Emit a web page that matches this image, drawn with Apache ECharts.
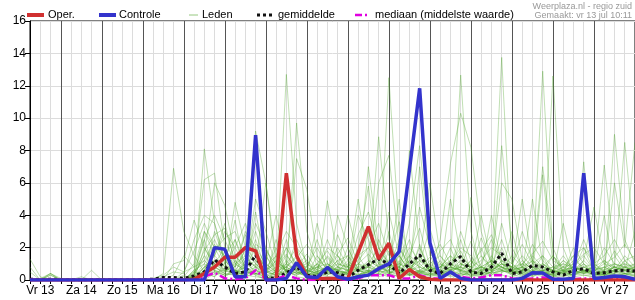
<!DOCTYPE html>
<html><head><meta charset="utf-8">
<script src="https://cdn.jsdelivr.net/npm/echarts@6/dist/echarts.min.js"></script>
<style>html,body{margin:0;padding:0;background:#fff}#c{width:635px;height:300px}</style>
</head><body><div id="c"></div>
<script>
// time axis: 6-hourly steps starting Vr 13 06:00
const dayNames = ['Vr 13','Za 14','Zo 15','Ma 16','Di 17','Wo 18','Do 19','Vr 20','Za 21','Zo 22','Ma 23','Di 24','Wo 25','Do 26','Vr 27','Za 28'];
const startHour = 6, stepHours = 6, pointCount = 60;
const yTicks = [0,2,4,6,8,10,12,14,16];

const oper = [0,0,0, 0,0,0,0, 0,0,0,0, 0,0,0,0,
  0,0.05,0.4,0.8, 1.4,1.4,2.0,1.8, 0,0,6.6,1.5, 0.2,0.1,0.1,0.1, 0.1,1.7,3.3,1.3, 2.27,0.1,0.65,0.2,
  0.05,0,0,0, 0,0,0,0, 0,0,0,0, 0,0,0,0, 0,0,0,0, 0];
const controle = [0,0,0, 0,0,0,0, 0,0,0,0, 0,0,0,0,
  0,0,0,2.0, 1.9,0.2,0.2,8.95, 0,0,0.1,1.07, 0.2,0.15,0.78,0.2, 0.05,0.2,0.3,0.7, 1.0,1.75,6.8,11.84,
  2.3,0.1,0.5,0.1, 0,0,0,0, 0,0.1,0.45,0.43, 0.05,0.05,0.1,6.6, 0.1,0.15,0.25,0.2, 0.05];
const gemiddelde = [0.05,0.02,0.05, 0.02,0.01,0.01,0.02, 0.01,0.01,0.01,0.01, 0.02,0.05,0.15,0.15,
  0.1,0.25,0.5,1.24, 0.8,0.4,0.5,1.55, 0.15,0.1,0.45,0.8, 0.3,0.2,0.5,0.45, 0.15,0.6,0.95,1.3,
  1.0,0.4,1.0,1.55, 0.6,0.4,1.0,1.45, 0.5,0.4,0.8,1.65, 0.4,0.5,0.9,0.8, 0.5,0.3,0.6,0.7, 0.4,0.45,0.57,0.6, 0.55];
const mediaan = [0,0,0, 0,0,0,0, 0,0,0,0, 0,0,0,0,
  0,0,0.2,0.45, 0.1,0.05,0.1,0.6, 0.05,0.05,0.3,0.1, 0,0,0.1,0.05, 0,0.1,0.3,0.3, 0.3,0.1,0.1,0.3,
  0.1,0.1,0.5,0.2, 0.1,0.15,0.3,0.3, 0.1,0.05,0.1,0.15, 0.1,0.05,0.05,0.1, 0.05,0.05,0.1,0.1, 0.05];

const leden01 = [0,0,0,0,0,0,0,0,0,0,0,0,0,0.4,6.9, 3.0,1.5,0.5,0.2, 0.8,0.3,1.2,0.4, 0,0.5,2.0,0.8, 0.3,1.5,0.6,0.2, 0.5,1.8,3.0,1.2, 0.4,0.2,1.5,3.2, 0.8,0.2,0,0.5, 1.2,0.3,0.8,2.5, 0.6,0.2,0.5,1.5, 0.3,0,0.4,1.0, 0.2,0.6,1.8,0.9, 0.4];
const leden02 = [1.3,0.2,0,0,0,0,0,0,0,0,0,0,0,0,0, 0,0.4,8.1,3.5, 1.2,0.6,0.2,0.8, 0.2,0,1.0,0.5, 0.2,0.8,1.4,0.6, 0.3,0.7,0.2,0.4, 1.8,0.6,0.3,2.2, 0.5,1.2,0.4,0.2, 0.6,1.5,0.8,13.75, 1.0,0.5,0.3,0.6, 0.2,0.5,1.0,0.4, 0.3,0.8,0.5,1.2, 0.6];
const leden03 = [0,0,0,0,0,0,0,0,0,0,0,0,0,0,0, 0.2,1.0,6.2,6.6, 2.0,0.5,0.8,0.3, 0,0.6,0.3,1.2, 0.5,0.2,4.9,1.5, 0.6,0.2,1.0,8.85, 2.5,0.8,0.4,0.6, 0.3,0.2,0.8,1.8, 0.6,0.3,0.5,1.2, 0.4,0.8,0.2,0.5, 1.5,0.6,0.2,0.8, 0.4,0.2,9.0,2.5, 1.0];
const leden04 = [0,0,0,0,0,0,0,0,0,0,0,0,0,0,0, 0,0.3,1.5,6.0, 4.6,1.5,0.8,0.4, 0.2,0.5,12.7,3.5, 0.8,0.3,0.6,1.2, 0.4,1.0,0.5,0.3, 0.8,1.5,0.6,0.4, 1.2,0.3,0.5,0.8, 0.2,0.4,1.5,0.6, 0.3,1.0,0.5,12.9, 1.5,0.5,0.3,0.8, 0.5,0.3,0.6,1.5, 0.8];
const leden05 = [0.8,0,0.4,0.1,0,0,0,0,0,0,0,0,0,0,0, 0,0,0.8,1.2, 0.6,4.8,2.0,9.2, 6.0,1.5,0.5,0.3, 0.6,0.4,0.3,0.8, 1.5,0.5,0.8,0.6, 12.5,3.0,0.8,0.5, 0.3,0.8,1.5,0.4, 0.6,0.2,0.5,0.8, 0.4,0.6,0.3,0.5, 12.6,2.0,0.4,0.6, 0.3,0.5,0.8,0.4, 0.3];
const leden06 = [0.5,0,0.3,0,0,0,0.6,0,0,0,0,0,0,0.2,0.5, 0.4,2.5,4.0,3.5, 1.0,3.7,0.5,1.0, 0.5,2.0,0.4,0.8, 1.0,0.6,2.0,1.5, 0.8,5.0,1.2,0.8, 0.5,0.6,3.5,8.3, 2.0,0.5,1.2,12.66, 3.0,0.5,1.0,0.6, 0.5,1.2,0.6,0.5, 0.3,0.6,0.5,7.3, 1.0,0.5,0.4,0.8, 0.5];
const leden07 = [0,0,0,0,0,0,0,0,0,0,0,0,0,0,0, 0,0.2,0.5,1.0, 2.0,0.8,3.0,2.0, 1.0,4.0,1.0,7.5, 5.6,1.5,0.6,0.4, 0.3,0.6,7.0,2.0, 1.0,5.0,0.6,1.5, 0.5,2.5,7.2,10.3, 8.2,3.0,1.0,0.8, 0.5,0.6,1.2,0.4, 0.6,1.5,0.6,0.4, 0.8,7.1,1.5,0.6, 1.0];
const leden08 = [0,0.1,0.4,0,0,0.2,0,0,0,0,0,0,0,0,1.0, 1.2,3.7,2.0,0.8, 0.5,1.0,0.6,5.0, 3.0,0.8,2.0,1.0, 0.5,3.5,1.0,0.6, 4.0,1.5,0.5,6.0, 7.7,2.0,0.8,0.5, 0.6,0.4,1.0,0.6, 5.1,1.5,0.6,8.3, 2.0,0.8,0.5,1.0, 0.6,0.4,2.0,1.0, 0.4,0.6,6.0,2.0, 8.5];
const leden09 = [0,0,0,0,0,0,0,0,0,0,0,0,0.1,0.3,0.8, 0.5,0.8,3.0,1.5, 3.5,1.0,0.5,0.8, 6.0,1.0,0.6,2.5, 1.0,0.5,0.8,0.6, 0.4,2.0,5.8,1.0, 0.8,0.4,0.6,1.2, 6.0,1.5,0.6,1.0, 0.8,4.0,1.0,6.0, 5.0,1.2,0.6,0.8, 1.5,0.8,0.4,1.2, 4.5,1.0,0.8,8.5, 2.0];
const leden10 = [0,0,0,0,0,0,0,0,0,0,0,0,0,0,0, 0,0,0.4,0.8, 0.4,0.3,1.0,0.6, 0.3,0.2,0.5,9.7, 3.0,0.8,0.4,0.3, 0.6,0.3,0.5,1.0, 0.4,0.8,0.3,0.6, 1.0,0.5,0.3,0.4, 0.2,0.6,0.8,0.5, 0.6,5.0,1.0,7.0, 2.0,0.5,0.3,0.6, 0.8,0.3,0.5,0.4, 0.6];
const leden11 = [0,0,0,0,0,0,0,0,0,0,0,0,0,0,0, 0,0.1,0.6,1.5, 0.8,0.4,2.0,1.2, 0.5,0.3,1.2,0.5, 0.3,1.0,0.4,4.0, 2.0,0.6,1.0,0.5, 1.0,0.4,8.0,2.0, 0.5,1.0,0.6,0.3, 0.5,0.8,0.4,1.2, 0.8,0.4,5.0,1.0, 0.5,1.2,0.6,0.4, 0.6,0.3,0.4,1.2, 0.6];
const leden12 = [0,0,0.4,0,0,0,0,0,0,0,0,0,0,0,0, 0,0,2.0,1.0, 0.5,2.5,0.6,0.3, 1.5,0.4,0.2,0.8, 1.2,0.4,0.6,1.5, 0.5,4.0,2.5,0.6, 0.3,1.5,0.5,2.0, 0.6,0.3,5.0,1.5, 0.4,1.0,2.5,1.0, 0.5,0.3,0.6,0.5, 0.4,0.8,1.5,0.6, 0.3,0.4,0.8,0.6, 0.4];
const leden13 = [0,0,0,0,0,0,0,0,0,0,0,0,0,0,0, 0,0.5,1.2,0.6, 0.3,0.6,0.4,4.2, 1.0,0.5,2.5,0.6, 0.4,0.3,0.8,0.5, 1.2,0.6,0.4,2.5, 1.0,0.6,0.4,7.0, 1.5,0.4,0.8,0.5, 0.3,0.6,4.0,1.0, 0.6,0.4,0.3,6.5, 1.0,0.6,0.5,0.4, 0.6,0.8,0.5,0.3, 0.5];
const leden14 = [0,0,0,0,0,0,0,0,0,0,0,0,0,0,0, 0,0.2,0.4,3.0, 1.2,0.5,0.3,0.6, 0.4,1.5,0.5,0.3, 0.6,2.5,0.6,0.4, 0.3,0.8,3.0,1.5, 0.6,2.5,0.4,0.3, 0.8,0.6,2.0,0.5, 0.6,0.3,0.5,3.5, 1.0,0.5,0.8,0.4, 0.3,3.5,0.8,0.5, 0.6,4.0,0.5,0.6, 3.0];
const leden15 = [0,0,0.3,0,0,0,0,0,0,0,0,0,0,0,0, 0.3,0,0.2,0.5, 0.3,0.4,0.6,2.0, 0.5,0.3,0.6,0.4, 0.3,0.5,0.3,0.6, 0.4,0.3,0.6,0.5, 3.0,0.5,0.3,0.6, 0.4,0.3,0.5,2.5, 0.5,0.6,0.4,2.0, 0.5,0.3,0.4,0.6, 0.5,0.3,0.4,0.5, 0.3,0.5,0.4,0.3, 0.5];
const leden16 = [0,0,0,0,0,0,0,0,0,0,0,0,0,0,0, 0,0.3,2.5,0.5, 0.3,0.6,0.4,0.6, 2.0,0.4,0.3,0.5, 0.4,0.3,1.0,0.5, 2.0,0.6,0.4,0.3, 0.5,0.4,0.6,0.4, 0.3,0.6,0.4,1.0, 0.6,2.0,0.5,0.4, 3.0,0.6,0.4,0.3, 0.4,0.5,0.6,2.0, 0.5,0.3,0.6,0.4, 0.6];
const leden17 = [0,0,0,0,0,0,0,0,0,0,0,0,0,0,0, 0,0,0.3,0.5, 0.6,0.3,0.5,0.4, 0.3,0.5,0.8,0.4, 0.6,0.4,0.5,0.3, 0.5,0.4,0.3,0.6, 0.4,0.6,0.3,0.5, 0.4,0.3,0.6,0.4, 0.3,0.5,0.4,0.6, 0.4,0.5,0.3,0.4, 0.3,0.4,0.5,0.6, 0.4,0.5,0.3,0.4, 0.3];
const leden18 = [0,0,0,0,0,0,0,0,0,0,0,0,0,0,0, 0,0.5,0.4,0.2, 1.0,0.4,0.3,0.2, 0.1,0.3,0.6,0.2, 0.1,0.2,0.4,0.8, 0.3,0.2,0.5,0.4, 0.2,1.2,0.3,0.2, 0.4,0.2,0.3,0.6, 0.3,0.2,0.5,0.3, 0.2,0.4,0.2,0.5, 0.3,0.2,0.4,0.3, 0.2,0.3,0.2,0.4, 0.2];
const leden19 = [0,0,0,0,0,0,0,0,0,0,0,0,0,0,0, 0,0,0,0.4, 0.2,0.6,0.2,0.4, 0.2,0.1,0.3,0.5, 0.2,0.4,0.2,0.3, 0.1,0.3,0.6,0.2, 0.4,0.2,0.3,0.5, 0.2,0.4,0.2,0.3, 0.4,0.2,0.3,0.8, 0.3,0.2,0.4,0.2, 0.2,0.3,0.2,0.3, 0.2,0.4,0.3,0.2, 0.3];
const leden20 = [0,0,0,0,0,0,0,0,0,0,0,0,0,0,0, 0,0.2,1.0,2.2, 1.5,0.8,1.8,1.0, 0.4,1.2,0.6,1.0, 0.8,0.5,1.5,0.8, 0.6,1.0,0.8,1.5, 1.0,0.8,1.5,1.0, 0.4,0.8,1.2,1.5, 0.8,0.6,1.0,1.5, 0.6,0.8,1.2,0.8, 0.5,0.8,0.6,1.2, 0.6,0.8,1.0,0.6, 0.8];
const leden21 = [0,0,0,0,0,0,0,0,0,0,0,0,0,0,0, 0.5,1.8,3.5,2.0, 1.5,2.5,1.0,3.0, 1.0,0.5,1.5,0.8, 0.6,1.0,0.5,1.2, 1.5,0.8,1.0,2.0, 0.8,1.0,2.5,0.6, 1.0,1.5,0.8,0.6, 1.2,0.8,0.6,1.0, 0.8,0.6,1.5,0.8, 0.6,1.0,0.8,0.5, 0.8,1.2,0.6,0.8, 1.0];
const leden22 = [0,0,0,0,0,0,0,0,0,0,0,0,0,0,0, 0,0.6,2.5,4.0, 2.5,1.0,1.5,0.8, 1.5,0.6,1.0,2.0, 0.5,0.8,1.0,0.6, 0.8,1.5,2.0,1.0, 2.0,1.0,0.6,1.5, 0.6,0.8,1.0,2.0, 1.5,0.6,1.2,0.8, 0.6,1.5,0.8,1.0, 0.5,0.6,1.2,0.8, 0.6,1.0,0.5,1.0, 0.6];
const leden23 = [0,0,0,0,0,0,0,0,0,0,0,0,0,0,0, 0,0.2,0.8,1.5, 3.0,2.0,0.8,2.5, 0.6,0.3,0.8,1.5, 0.6,0.4,0.6,2.0, 0.8,0.5,0.6,0.4, 0.6,2.0,1.0,0.5, 0.8,0.4,0.6,0.8, 0.5,0.4,0.6,1.0, 0.6,0.4,0.8,0.5, 0.3,0.5,0.8,1.5, 0.6,0.4,0.8,0.5, 0.8];
const leden24 = [0,0,0,0,0,0,0,0,0,0,0,0,0,0,0, 0,0,0.3,0.6, 0.4,1.2,0.4,0.6, 0.3,2.5,0.4,0.6, 0.3,0.5,0.8,0.4, 0.6,0.3,0.5,0.8, 0.5,0.3,0.6,0.4, 0.3,0.5,0.8,0.6, 0.4,0.5,0.3,0.6, 0.4,0.6,0.5,0.3, 0.6,0.4,0.3,0.5, 0.4,0.3,0.6,0.4, 0.5];
const leden25 = [0,0,0,0,0,0,0,0,0,0,0,0,0,0,0.3, 1.5,0.8,1.2,2.5, 1.0,2.0,3.5,1.5, 0.8,1.5,3.0,2.0, 1.2,0.6,2.5,1.0, 0.8,1.2,2.0,3.5, 1.5,0.8,2.0,1.2, 0.6,1.8,2.5,1.0, 0.8,1.2,2.0,1.5, 1.0,2.2,1.0,1.5, 0.8,0.6,1.5,2.0, 1.0,1.5,2.5,1.2, 1.5];
const leden26 = [0,0,0,0,0,0,0,0,0,0,0,0,0,0,0, 0,0.4,1.8,2.8, 3.2,1.2,0.6,2.2, 1.8,1.0,0.8,1.4, 2.2,1.2,0.8,1.6, 2.6,1.0,1.6,0.8, 1.2,3.6,1.4,0.8, 1.4,2.2,1.0,0.6, 1.0,1.8,2.8,1.2, 0.8,1.0,1.6,2.4, 1.2,0.8,1.0,1.6, 2.0,1.0,1.4,2.2, 1.2];
const leden27 = [0,0,0,0,0,0,0,0,0,0,0,0,0,0,0, 0,0,0.6,1.8, 2.6,3.0,1.4,0.8, 0.4,0.8,1.6,0.6, 0.4,1.0,1.8,0.8, 0.6,2.8,4.2,2.0, 1.0,0.6,1.2,4.5, 2.0,0.8,1.5,1.0, 0.6,0.8,1.2,0.8, 0.5,0.8,2.2,1.2, 0.6,0.4,0.8,0.6, 0.5,1.2,0.8,0.6, 0.8];
const leden28 = [0,0,0,0,0,0,0,0,0,0,0,0,0,0,0, 0,0.2,3.0,2.0, 0.8,0.5,1.0,3.5, 2.0,0.6,0.4,1.0, 0.6,0.3,0.8,0.5, 0.4,0.6,1.0,0.6, 4.2,1.5,0.6,0.4, 0.8,0.5,0.6,3.0, 1.2,0.5,0.8,0.6, 1.5,0.8,0.4,0.6, 0.4,0.6,0.8,2.5, 0.8,0.5,0.6,0.8, 0.5];
const leden29 = [0,0,0,0,0,0,0,0,0,0,0,0,0,0,0, 0,0.1,0.8,1.2, 0.6,0.8,2.8,1.6, 0.8,0.4,1.0,0.6, 0.8,2.0,0.8,0.6, 1.0,0.6,0.8,1.4, 0.8,0.6,1.2,0.8, 0.5,0.8,0.6,1.2, 0.8,2.6,1.0,0.6, 0.8,0.6,1.0,0.8, 0.6,1.2,0.8,0.6, 0.8,0.6,1.0,0.8, 0.6];
const leden30 = [0,0,0,0,0,0,0,0,0,0,0,0,0,0,0, 0,0.3,1.5,0.8, 0.4,1.6,0.6,0.4, 0.6,1.0,0.5,0.8, 1.6,0.6,0.4,2.8, 1.2,0.6,0.8,0.5, 0.6,0.8,0.5,1.0, 3.2,1.0,0.6,0.8, 2.4,0.8,0.6,1.0, 0.8,3.0,1.2,0.6, 0.8,0.5,0.6,1.0, 0.6,2.0,1.0,0.8, 0.6];
const leden31 = [0,0,0,0,0,0,0,0,0,0,0,0,0,0,0, 0,0,0.5,1.0, 0.6,0.4,0.8,1.2, 0.5,0.6,0.8,0.4, 0.6,0.5,0.8,0.6, 0.4,0.8,0.5,0.6, 0.8,0.5,0.6,0.8, 0.6,0.5,0.8,0.6, 0.5,0.8,0.6,0.5, 0.6,0.8,0.5,0.6, 0.5,0.6,0.8,0.5, 0.6,0.5,0.8,0.6, 0.5];
const leden32 = [0,0,0,0,0,0,0,0,0,0,0,0,0,0,0, 0,0.6,1.0,0.6, 1.8,0.6,1.4,0.8, 0.6,1.2,0.6,1.0, 0.6,0.8,0.6,1.0, 0.8,0.6,1.2,0.8, 0.6,1.0,0.8,1.2, 0.8,0.6,1.0,0.8, 0.6,0.8,1.2,0.8, 0.6,1.0,0.8,0.6, 0.8,1.0,0.6,0.8, 1.0,0.6,0.8,1.0, 0.8];
const leden = [leden01,leden02,leden03,leden04,leden05,leden06,leden07,leden08,leden09,leden10,leden11,leden12,
  leden13,leden14,leden15,leden16,leden17,leden18,leden19,leden20,leden21,leden22,leden23,leden24,
  leden25,leden26,leden27,leden28,leden29,leden30,leden31,leden32];

const legendItems = ['Oper.','Controle','Leden','gemiddelde','mediaan (middelste waarde)'];
const sourceText = 'Weerplaza.nl - regio zuid';
const madeText = 'Gemaakt: vr 13 jul 10:11';

const FONT = 'Liberation Sans, Arial, Helvetica, sans-serif';
const categories = [];
for (let i = 0; i < pointCount; i++) {
  const h = startHour + stepHours * i;
  categories.push(dayNames[Math.floor(h / 24)] + '|' + (h % 24));
}
const hourOf = idx => (startHour + stepHours * idx) % 24;

const chart = echarts.init(document.getElementById('c'), null, {renderer: 'canvas'});

const series = [];
leden.forEach(d => series.push({
  name: 'Leden', type: 'line', data: d, symbol: 'none', silent: true, animation: false,
  lineStyle: {color: 'rgba(80,165,45,0.36)', width: 1}, z: 2
}));
series.push({name: 'gemiddelde', type: 'line', data: gemiddelde, symbol: 'none', animation: false,
  lineStyle: {color: '#111', width: 3, type: [3, 3]}, z: 3});
series.push({name: 'mediaan (middelste waarde)', type: 'line', data: mediaan, symbol: 'none', animation: false,
  lineStyle: {color: '#e000e0', width: 2.5, type: [8, 3, 2, 3]}, z: 4});
series.push({name: 'Oper.', type: 'line', data: oper, symbol: 'none', animation: false,
  lineStyle: {color: '#d03030', width: 3.5}, z: 5});
series.push({name: 'Controle', type: 'line', data: controle, symbol: 'none', animation: false,
  lineStyle: {color: '#3333cc', width: 3.5}, z: 6});

// legend drawn as graphic (swatch + text)
const legendSwatches = [
  {x1: 27, x2: 44, color: '#d03030', width: 4, dash: null},
  {x1: 99, x2: 116, color: '#3333cc', width: 4, dash: null},
  {x1: 189, x2: 198, color: 'rgba(80,165,45,0.6)', width: 1, dash: null},
  {x1: 257, x2: 275, color: '#111', width: 3, dash: [3, 3]},
  {x1: 355, x2: 370, color: '#e000e0', width: 2.5, dash: [7, 3, 2, 3]}
];
const legendTextX = [48, 119, 202, 278, 375];
const graphic = [];
legendSwatches.forEach((s, k) => {
  graphic.push({type: 'line', shape: {x1: s.x1, y1: 15, x2: s.x2, y2: 15},
    style: {stroke: s.color, lineWidth: s.width, lineDash: s.dash}});
  graphic.push({type: 'text', x: legendTextX[k], y: 15,
    style: {text: legendItems[k], font: '11px ' + FONT, fill: '#000', verticalAlign: 'middle'}});
});
graphic.push({type: 'text', right: 3, top: 2,
  style: {text: sourceText, font: '9px ' + FONT, fill: '#999', align: 'right'}});
graphic.push({type: 'text', right: 3, top: 11,
  style: {text: madeText, font: '9px ' + FONT, fill: '#999', align: 'right'}});

chart.setOption({
  animation: false,
  backgroundColor: '#fff',
  graphic: graphic,
  grid: {left: 30, right: 0, top: 21, bottom: 20, show: true, borderColor: '#000', borderWidth: 1, backgroundColor: 'transparent'},
  xAxis: [{
    type: 'category', data: categories, boundaryGap: false,
    axisLine: {lineStyle: {color: '#000', width: 1}},
    axisTick: {show: true, interval: 0, length: 4, lineStyle: {color: '#000'}},
    axisLabel: {interval: (i) => hourOf(i) === 12, formatter: v => v.split('|')[0],
      color: '#000', fontSize: 12, fontFamily: FONT, margin: 5},
    splitLine: {show: true, interval: 0, lineStyle: {color: '#dcdcdc', width: 1}}
  }, {
    type: 'category', data: categories, boundaryGap: false, position: 'bottom',
    axisLine: {show: false}, axisTick: {show: false}, axisLabel: {show: false},
    splitLine: {show: true, interval: (i) => hourOf(i) === 0, lineStyle: {color: '#555', width: 1}}
  }],
  yAxis: {
    type: 'value', min: yTicks[0], max: yTicks[yTicks.length - 1], interval: yTicks[1] - yTicks[0],
    axisLine: {show: true, lineStyle: {color: '#000'}},
    axisTick: {show: true, length: 5, lineStyle: {color: '#000'}},
    axisLabel: {color: '#000', fontSize: 12, fontFamily: FONT, margin: 4},
    splitLine: {show: true, lineStyle: {color: '#dcdcdc', width: 1}}
  },
  series: series
});
</script>
</body></html>
